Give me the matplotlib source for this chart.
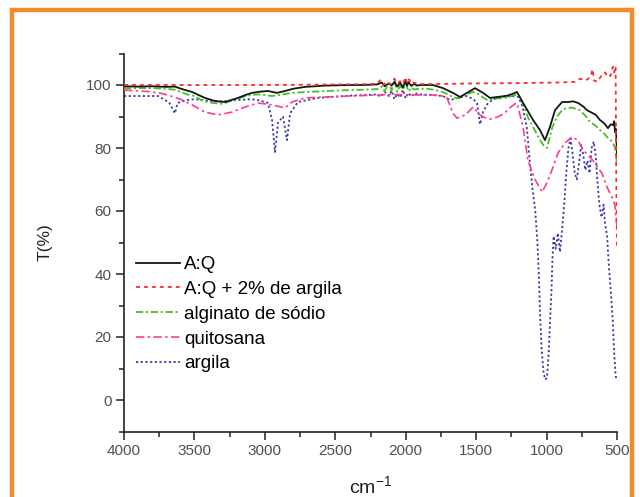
import matplotlib
matplotlib.use("Agg")
import matplotlib.pyplot as plt
from matplotlib.patches import Rectangle
from matplotlib.ticker import MultipleLocator

plt.rcParams['font.family'] = ['Liberation Sans', 'DejaVu Sans']
plt.rcParams['mathtext.default'] = 'regular'

labels = ["A:Q", "A:Q + 2% de argila", "alginato de sódio", "quitosana", "argila"]

wn_aq = [4000, 3900, 3800, 3700, 3640, 3580, 3517, 3470, 3425, 3354, 3283, 3240, 3191, 3140,
         3091, 3030, 2978, 2914, 2857, 2800, 2715, 2573, 2400, 2300, 2200, 2170, 2150, 2120,
         2100, 2080, 2060, 2040, 2020, 2000, 1990, 1980, 1960, 1940, 1920, 1900, 1806, 1735,
         1664, 1615, 1565, 1508, 1451, 1402, 1330, 1280, 1240, 1210, 1167, 1130, 1096, 1047,
         1011, 976, 940, 890, 848, 810, 777, 740, 713, 670, 650, 621, 590, 564, 545, 528,
         520, 514, 507, 500]
t_aq = [99.6, 99.5, 99.6, 99.4, 99.5, 98.6, 97.8, 96.8, 95.9, 94.9, 94.6, 95.2, 95.9, 96.8,
        97.5, 97.9, 98.1, 97.5, 98.1, 98.8, 99.4, 99.8, 100.0, 100.0, 100.2, 100.8, 99.6, 100.5,
        99.8, 101.0, 99.5, 100.8, 99.2, 101.5, 99.8, 100.9, 99.7, 100.4, 99.8, 100.0, 100.0, 99.0,
        97.5, 96.2, 97.5, 99.0, 97.5, 95.9, 96.3, 96.6, 97.2, 97.8, 94.3, 91.5, 88.9, 85.7,
        82.5, 86.7, 92.0, 94.6, 94.6, 94.8, 94.3, 93.2, 92.0, 91.0, 90.5, 88.9, 87.8, 86.3, 87.5, 87.3,
        88.5, 85.0, 86.0, 78.0]

wn_aq_arg = [4000, 3000, 2400, 2250, 2200, 2180, 2160, 2140, 2110, 2080, 2060, 2040, 2020,
             2000, 1990, 1975, 1960, 1950, 1900, 1800, 1500, 1200, 900, 800, 760, 720, 690,
             672, 665, 640, 610, 585, 565, 545, 530, 520, 510, 505, 500]
t_aq_arg = [100.0, 100.0, 100.2, 100.3, 100.5, 101.5, 100.0, 101.0, 100.2, 102.0, 100.5, 101.2, 100.3,
            102.5, 100.5, 101.8, 100.4, 100.8, 100.3, 100.3, 100.5, 100.6, 100.8, 101.0, 102.0, 101.5, 102.5,
            105.0, 101.5, 101.0, 103.0, 104.0, 102.5, 103.0, 105.8, 104.0, 106.0, 70.0, 48.0]

wn_alg = [4000, 3800, 3700, 3640, 3550, 3500, 3450, 3400, 3350, 3300, 3250, 3200, 3150, 3100,
          3050, 3000, 2950, 2900, 2850, 2800, 2700, 2600, 2500, 2400, 2300, 2200, 2170, 2150,
          2120, 2100, 2080, 2060, 2040, 2020, 2000, 1980, 1960, 1940, 1900, 1850, 1800, 1750,
          1700, 1660, 1620, 1580, 1520, 1480, 1450, 1420, 1380, 1330, 1280, 1240, 1210, 1180,
          1160, 1130, 1100, 1070, 1040, 1015, 997, 980, 960, 926, 890, 855, 820, 762, 720, 692,
          650, 621, 590, 571, 545, 528, 514, 505, 500]
t_alg = [99.0, 99.0, 98.8, 98.5, 97.0, 96.5, 95.2, 94.5, 94.2, 94.0, 94.8, 95.5, 96.3, 96.8,
         97.0, 96.8, 96.5, 96.8, 97.2, 97.5, 97.8, 98.0, 98.2, 98.4, 98.5, 98.7, 99.5, 98.0,
         100.5, 98.2, 101.5, 97.8, 99.8, 98.5, 100.5, 98.0, 99.2, 98.6, 98.8, 98.8, 98.5, 98.0,
         97.0, 96.0, 95.8, 96.8, 97.8, 97.0, 96.0, 95.2, 95.6, 95.8, 96.0, 96.6, 97.0, 95.5,
         93.0, 89.5, 87.0, 84.5, 82.0, 80.5, 80.0, 83.0, 86.5, 90.0, 92.0, 92.7, 92.8, 92.0, 90.0, 88.3,
         87.0, 85.7, 84.5, 83.5, 82.5, 81.6, 80.0, 77.0, 74.0]

wn_quit = [4000, 3850, 3750, 3688, 3600, 3517, 3425, 3333, 3233, 3141, 3049, 2949, 2857, 2807,
           2715, 2573, 2400, 2200, 2100, 2000, 1900, 1800, 1740, 1707, 1664, 1636, 1600, 1565,
           1522, 1473, 1430, 1400, 1350, 1300, 1260, 1225, 1210, 1167, 1132, 1082, 1032, 997,
           962, 919, 869, 820, 777, 742, 700, 670, 640, 607, 571, 536, 515, 508, 500]
t_quit = [98.4, 98.0, 97.5, 96.8, 95.5, 93.7, 91.4, 90.5, 91.4, 93.0, 94.3, 93.7, 92.7, 94.6,
          95.9, 96.2, 96.5, 96.8, 97.0, 96.9, 96.8, 96.8, 96.5, 95.9, 91.0, 89.5, 90.0, 91.0,
          93.0, 90.5, 89.5, 89.2, 89.8, 91.0, 92.8, 94.0, 94.3, 86.7, 76.0, 70.0, 66.0, 69.0,
          73.0, 78.4, 81.6, 83.5, 82.5, 79.4, 77.5, 76.0, 74.0, 72.0, 67.6, 64.4, 62.0, 58.0, 55.0]

wn_arg = [4000, 3900, 3800, 3758, 3709, 3680, 3650, 3638, 3620, 3553, 3500, 3400, 3300, 3200,
          3100, 3049, 2978, 2949, 2928, 2907, 2871, 2843, 2821, 2765, 2623, 2500, 2400, 2300,
          2200, 2180, 2150, 2120, 2100, 2080, 2060, 2040, 2020, 2000, 1980, 1960, 1940, 1900,
          1800, 1735, 1686, 1620, 1565, 1520, 1494, 1473, 1451, 1420, 1380, 1300, 1250, 1200,
          1170, 1140, 1120, 1100, 1080, 1065, 1055, 1047, 1035, 1022, 1010, 997, 985, 975, 965,
          958, 950, 935, 920, 905, 890, 875, 860, 845, 830, 815, 800, 785, 770, 755, 740, 725,
          710, 695, 680, 665, 650, 640, 625, 610, 595, 585, 570, 560, 545, 530, 520, 510, 505, 500]
t_arg = [96.5, 96.5, 96.5, 96.5, 95.2, 94.5, 92.0, 91.0, 94.3, 95.2, 95.5, 95.0, 94.8, 95.2,
         95.5, 95.2, 94.3, 88.9, 78.7, 88.0, 90.0, 82.5, 91.0, 94.6, 95.9, 96.3, 96.6, 96.8,
         97.0, 96.2, 97.8, 96.5, 98.2, 95.5, 97.2, 96.0, 98.5, 95.8, 97.5, 96.3, 97.4, 97.0,
         96.8, 96.5, 95.2, 96.0, 96.5, 95.5, 94.3, 87.5, 91.4, 94.0, 95.5, 96.3, 96.5, 96.2,
         93.0, 86.5, 76.0, 67.0, 60.0, 50.0, 40.0, 28.0, 16.0, 9.0, 6.5, 7.0, 15.0, 25.0, 35.0,
         45.0, 52.0, 48.0, 53.0, 47.0, 54.0, 62.0, 72.0, 80.0, 83.0, 78.0, 72.0, 70.0, 75.0, 81.0, 78.0, 73.0,
         76.0, 72.0, 80.0, 82.0, 77.0, 70.0, 62.0, 58.0, 62.0, 56.0, 52.0, 44.0, 35.0, 25.0, 15.0, 8.0, 6.5, 6.5]

W, H = 640, 497
fig = plt.figure(figsize=(W / 100, H / 100), dpi=100)
ax = fig.add_axes([124 / W, 1 - 431.5 / H, (617 - 124) / W, (431.5 - 53.5) / H])

ax.plot(wn_arg, t_arg, color='#3b3ba6', lw=1.3, ls=(0, (1.2, 1.4)), label=labels[4], zorder=2)
ax.plot(wn_quit, t_quit, color='#ff3d8b', lw=1.2, ls=(0, (5, 2, 1.5, 2)), label=labels[3], zorder=3)
ax.plot(wn_alg, t_alg, color='#48c020', lw=1.3, ls=(0, (4, 1.5, 1.2, 1.5)), label=labels[2], zorder=4)
ax.plot(wn_aq, t_aq, color='#151515', lw=1.3, ls='-', label=labels[0], zorder=5)
ax.plot(wn_aq_arg, t_aq_arg, color='#ff2a2a', lw=1.3, ls=(0, (2.2, 2.2)), label=labels[1], zorder=6)

ax.set_xlim(4000, 500)
ax.set_ylim(-10, 110)
ax.xaxis.set_major_locator(MultipleLocator(500))
ax.xaxis.set_minor_locator(MultipleLocator(250))
ax.yaxis.set_major_locator(MultipleLocator(20))
ax.yaxis.set_minor_locator(MultipleLocator(10))
ax.set_yticks([0, 20, 40, 60, 80, 100])

for s in ['top', 'right']:
    ax.spines[s].set_visible(False)
for s in ['left', 'bottom']:
    ax.spines[s].set_linewidth(1.2)
    ax.spines[s].set_color('#222222')

ax.tick_params(which='major', length=6, width=1.1, colors='#222222', labelsize=11, pad=3,
               labelcolor='#505050')
ax.tick_params(which='minor', length=3.8, width=1.1, colors='#222222')

ax.set_xlabel('cm$^{-1}$', fontsize=14, color='#222222')
ax.xaxis.set_label_coords(0.5, -0.115)
ax.set_ylabel('T(%)', fontsize=12.5, color='#222222')
ax.yaxis.set_label_coords(-0.145, 0.5)

h, l = ax.get_legend_handles_labels()
order = [3, 4, 2, 1, 0]
ax.legend([h[i] for i in order], [l[i] for i in order], loc='upper left',
          bbox_to_anchor=(0.017, 0.474), frameon=False, fontsize=13.5,
          handlelength=2.35, handletextpad=0.22, labelspacing=0.41, borderaxespad=0.0,
          borderpad=0.2)

fig.patches.append(Rectangle((12 / W, -0.2), (632 - 12) / W, 1.2 - 10 / H,
                             transform=fig.transFigure, fill=False, edgecolor='#f38a2c',
                             linewidth=3.2, zorder=10))

fig.savefig('out.png', dpi=100)
